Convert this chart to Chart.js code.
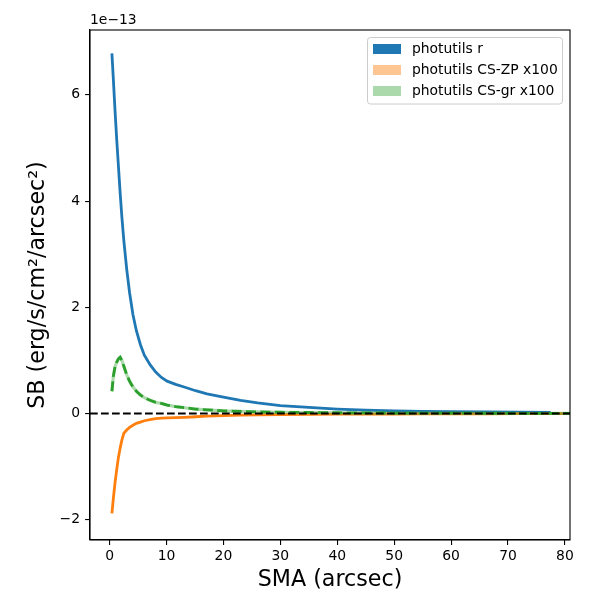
<!DOCTYPE html>
<html>
<head>
<meta charset="utf-8">
<script src="https://cdn.jsdelivr.net/npm/chart.js@4"></script>
<style>
  html, body { margin: 0; padding: 0; background: #fff; }
  #wrap { width: 600px; height: 600px; }
</style>
</head>
<body>
<div id="wrap"><canvas id="sbChart"></canvas></div>
<script>
// values in units of 1e-13 erg/s/cm2/arcsec2
const sma = [0.4, 0.65, 0.95, 1.25, 1.55, 1.85, 2.15, 2.5, 3.0, 3.5, 4.1, 4.7, 5.4, 6.1, 7.1, 8.1, 9.1, 10.1,
  11.6, 13.1, 15.1, 17.1, 20, 23, 26, 30, 35, 40, 45, 50, 55, 60, 66, 72, 77.5, 82];
const sbR = [6.78, 6.3, 5.7, 5.15, 4.65, 4.15, 3.7, 3.25, 2.72, 2.28, 1.86, 1.56, 1.3, 1.1, 0.92, 0.78, 0.68, 0.61,
  0.55, 0.5, 0.43, 0.37, 0.31, 0.25, 0.2, 0.15, 0.115, 0.085, 0.065, 0.05, 0.04, 0.035, 0.03, 0.025, 0.02, null];
const sbZP = [-1.88, -1.6, -1.3, -1.05, -0.82, -0.65, -0.5, -0.37, -0.31, -0.26, -0.22, -0.185, -0.16, -0.135, -0.115, -0.095, -0.085, -0.08,
  -0.075, -0.07, -0.06, -0.05, -0.04, -0.03, -0.025, -0.02, -0.015, -0.012, -0.01, -0.008, -0.006, -0.005, -0.004, -0.003, -0.002, -0.002];
const sbGR = [0.42, 0.7, 0.88, 0.97, 1.03, 1.06, 1.0, 0.89, 0.73, 0.61, 0.5, 0.42, 0.35, 0.3, 0.25, 0.21, 0.19, 0.16,
  0.13, 0.11, 0.085, 0.07, 0.05, 0.04, 0.03, 0.025, 0.02, 0.015, 0.012, 0.01, 0.009, 0.008, 0.006, 0.005, 0.004, 0.004];

const seriesLabels = ['photutils r', 'photutils CS-ZP x100', 'photutils CS-gr x100'];
const xTicks = [0, 10, 20, 30, 40, 50, 60, 70, 80];
const yTicks = [-2, 0, 2, 4, 6];
const xRange = [-3.45, 80.9];
const yRange = [-2.38, 7.22];

const toPts = ys => sma.map((x, i) => ({ x: x, y: ys[i] }));
const FONT = 'DejaVu Sans';

// frame, legend and offset text like matplotlib
const extras = {
  id: 'extras',
  afterDraw(chart) {
    const ctx = chart.ctx;
    const a = chart.chartArea;
    ctx.save();
    ctx.strokeStyle = '#000';
    ctx.lineWidth = 1.1;
    ctx.strokeRect(a.left, a.top, a.right - a.left, a.bottom - a.top);

    ctx.font = '13.9px "' + FONT + '"';
    ctx.fillStyle = '#000';
    ctx.textBaseline = 'bottom';
    ctx.textAlign = 'left';
    ctx.fillText('1e\u221213', a.left, a.top - 3);

    // legend
    const bx = 367.5, by = 37.5, bw = 195, bh = 66.5;
    ctx.beginPath();
    ctx.roundRect(bx, by, bw, bh, 3);
    ctx.fillStyle = 'rgba(255,255,255,0.8)';
    ctx.fill();
    ctx.strokeStyle = '#cccccc';
    ctx.lineWidth = 1;
    ctx.stroke();
    const patchCols = ['#1f77b4', 'rgba(255,127,14,0.45)', 'rgba(44,160,44,0.4)'];
    seriesLabels.forEach((lab, i) => {
      const cy = 49 + i * 21;
      ctx.fillStyle = patchCols[i];
      ctx.fillRect(373, cy - 5, 28, 10);
      ctx.fillStyle = '#000';
      ctx.textBaseline = 'middle';
      ctx.fillText(lab, 412, cy);
    });
    ctx.restore();
  }
};

const ctx = document.getElementById('sbChart').getContext('2d');
new Chart(ctx, {
  type: 'line',
  data: {
    datasets: [
      { data: [{ x: xRange[0], y: 0 }, { x: xRange[1], y: 0 }], borderColor: '#000', borderWidth: 2, borderDash: [7.7, 3.3], order: 0 },
      { data: toPts(sbGR), borderColor: '#2ca02c', borderWidth: 2.8, borderDash: [10, 4.4], order: 1 },
      { data: toPts(sbGR), borderColor: 'rgba(44,160,44,0.4)', borderWidth: 3.2, order: 2 },
      { data: toPts(sbZP), borderColor: '#ff7f0e', borderWidth: 2.8, order: 3 },
      { data: toPts(sbR), borderColor: '#1f77b4', borderWidth: 2.8, order: 4 }
    ]
  },
  options: {
    responsive: true,
    maintainAspectRatio: false,
    devicePixelRatio: 1,
    animation: false,
    layout: { padding: { top: 30, right: 30, left: 0, bottom: 0 } },
    elements: { point: { radius: 0 }, line: { tension: 0, borderCapStyle: 'butt' } },
    plugins: { legend: { display: false }, tooltip: { enabled: false } },
    scales: {
      x: {
        type: 'linear',
        min: xRange[0],
        max: xRange[1],
        afterBuildTicks: s => { s.ticks = xTicks.map(v => ({ value: v })); },
        afterFit: s => { s.height = 60; },
        grid: { drawOnChartArea: false, drawTicks: true, tickLength: 4.9, color: '#000', lineWidth: 1.1 },
        border: { display: true, color: '#000', width: 1.1 },
        ticks: { color: '#000', font: { family: FONT, size: 13.9 }, padding: 3, maxRotation: 0 },
        title: { display: true, text: 'SMA (arcsec)', color: '#000', font: { family: FONT, size: 22.2 }, padding: { top: 0, bottom: 6.7 } }
      },
      y: {
        type: 'linear',
        min: yRange[0],
        max: yRange[1],
        afterBuildTicks: s => { s.ticks = yTicks.map(v => ({ value: v })); },
        afterFit: s => { s.width = 90; },
        grid: { drawOnChartArea: false, drawTicks: true, tickLength: 4.9, color: '#000', lineWidth: 1.1 },
        border: { display: true, color: '#000', width: 1.1 },
        ticks: {
          color: '#000', font: { family: FONT, size: 13.9 }, padding: 5,
          callback: v => (v < 0 ? '\u2212' + Math.abs(v) : String(v))
        },
        title: { display: true, text: 'SB (erg/s/cm\u00b2/arcsec\u00b2)', color: '#000', font: { family: FONT, size: 22.2 }, padding: { top: 24.7, bottom: 0 } }
      }
    }
  },
  plugins: [extras]
});
</script>
</body>
</html>
